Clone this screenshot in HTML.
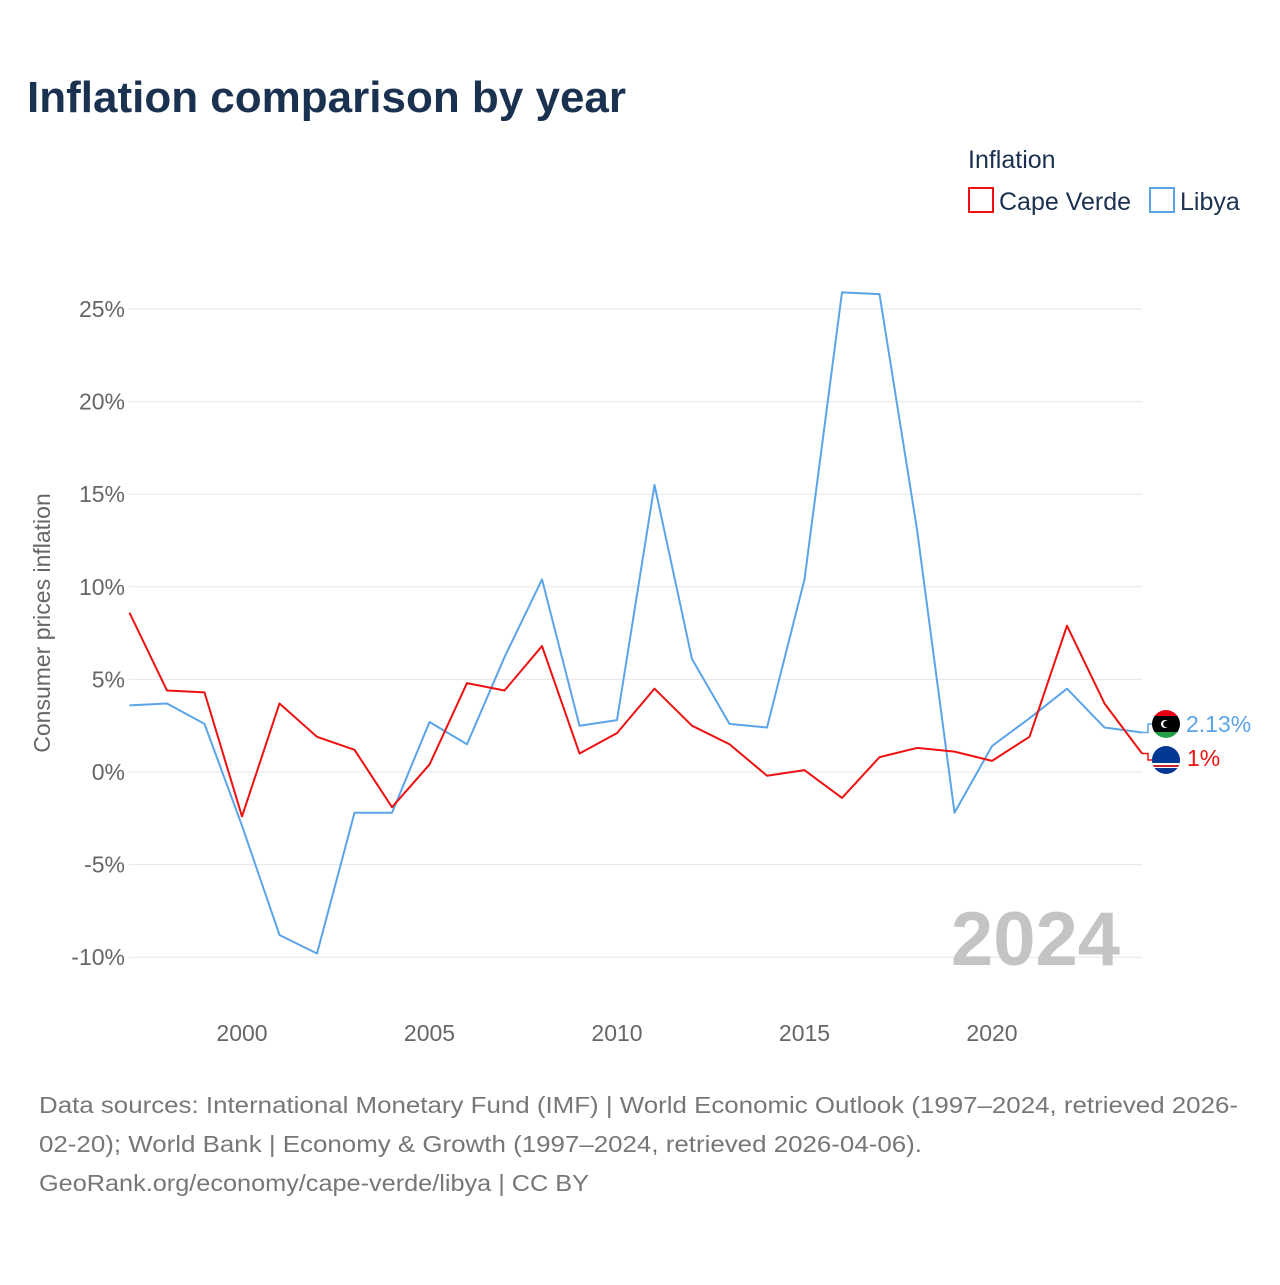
<!DOCTYPE html>
<html><head><meta charset="utf-8"><style>
body{margin:0;background:#fff;font-family:"Liberation Sans",sans-serif}
</style></head><body>
<svg id="c" width="1280" height="1280" xmlns="http://www.w3.org/2000/svg">
<text x="27" y="112" font-size="44" font-weight="bold" fill="#1b3150">Inflation comparison by year</text>
<text x="968" y="168" font-size="25" fill="#1b3150">Inflation</text>
<g><rect x="969" y="188" width="24" height="24" fill="none" stroke="#ee1111" stroke-width="2"/><text x="999" y="210" font-size="25" fill="#1b3150">Cape Verde</text></g>
<g><rect x="1150" y="188" width="24" height="24" fill="none" stroke="#5ba4e8" stroke-width="2"/><text x="1180" y="210" font-size="25" fill="#1b3150">Libya</text></g>
<text transform="translate(50,623) rotate(-90)" text-anchor="middle" font-size="23" fill="#666">Consumer prices inflation</text>
<g id="grid"></g><g id="xt"></g>
<text x="1120" y="965" text-anchor="end" font-size="76" font-weight="bold" fill="#c4c4c4">2024</text>
<g id="lines"></g>
<g>
<clipPath id="f1"><circle cx="1166" cy="724" r="14"/></clipPath>
<g clip-path="url(#f1)"><rect x="1150" y="708" width="32" height="8" fill="#e70013"/><rect x="1150" y="716" width="32" height="16" fill="#000"/><rect x="1150" y="732" width="32" height="8" fill="#239e46"/><circle cx="1165" cy="724" r="4" fill="#fff"/><circle cx="1166.5" cy="724" r="3.3" fill="#000"/></g>
<text x="1186" y="732" font-size="23" fill="#5ba4e8">2.13%</text></g>
<g>
<clipPath id="f2"><circle cx="1166" cy="760" r="14"/></clipPath>
<g clip-path="url(#f2)"><rect x="1150" y="744" width="32" height="32" fill="#003893"/><rect x="1150" y="763" width="32" height="5" fill="#fff"/><rect x="1150" y="765" width="32" height="2" fill="#cf2027"/></g>
<text x="1187" y="766" font-size="23" fill="#ee1111">1%</text></g>
<g font-size="23" fill="#777">
<text x="39" y="1113" textLength="1199" lengthAdjust="spacingAndGlyphs">Data sources: International Monetary Fund (IMF) | World Economic Outlook (1997–2024, retrieved 2026-</text>
<text x="39" y="1152" textLength="883" lengthAdjust="spacingAndGlyphs">02-20); World Bank | Economy &amp; Growth (1997–2024, retrieved 2026-04-06).</text>
<text x="39" y="1191" textLength="550" lengthAdjust="spacingAndGlyphs">GeoRank.org/economy/cape-verde/libya | CC BY</text>
</g>
</svg>
<script>
const years=[1997,1998,1999,2000,2001,2002,2003,2004,2005,2006,2007,2008,2009,2010,2011,2012,2013,2014,2015,2016,2017,2018,2019,2020,2021,2022,2023,2024];
const capeVerde=[8.6,4.4,4.3,-2.4,3.7,1.9,1.2,-1.9,0.4,4.8,4.4,6.8,1.0,2.1,4.5,2.5,1.5,-0.2,0.1,-1.4,0.8,1.3,1.1,0.6,1.9,7.9,3.7,1.0];
const libya=[3.6,3.7,2.6,-2.9,-8.8,-9.8,-2.2,-2.2,2.7,1.5,6.2,10.4,2.5,2.8,15.5,6.1,2.6,2.4,10.4,25.9,25.8,13.1,-2.2,1.4,2.9,4.5,2.4,2.13];
const yTicks=[-10,-5,0,5,10,15,20,25];
const xTicks=[2000,2005,2010,2015,2020];
const X=y=>129.5+(y-1997)*37.5, Y=v=>772-v*18.52;
const NS="http://www.w3.org/2000/svg";
function mk(t,a,p){const e=document.createElementNS(NS,t);for(const k in a)e.setAttribute(k,a[k]);p.appendChild(e);return e;}
const g=document.getElementById('grid');
yTicks.forEach(v=>{
 const l=mk('line',{x1:129,x2:1142,y1:Y(v),y2:Y(v),stroke:'#e6e6e6','stroke-width':1},g);
 
 
 const t=mk('text',{x:125,y:Y(v)+8,'text-anchor':'end','font-size':23,fill:'#666'},g);
 t.textContent=v+'%';
 
 
});
const xt=document.getElementById('xt');
xTicks.forEach(v=>{
 const t=mk('text',{x:X(v),y:1041,'text-anchor':'middle','font-size':23,fill:'#666'},xt);
 t.textContent=v;
 
 
});
const L=document.getElementById('lines');
function line(d,c,n){
 const p=mk('polyline',{points:d.map((v,i)=>X(years[i])+','+Y(v)).join(' '),fill:'none',stroke:c,'stroke-width':2,'stroke-linejoin':'round'},L);
 
 
}
line(libya,'#5ba4e8','libya-line');
line(capeVerde,'#ee1111','cape-verde-line');
const last=years.length-1;
mk('polyline',{points:`${X(years[last])},${Y(libya[last])} 1148,${Y(libya[last])} 1148,724 1152,724`,fill:'none',stroke:'#5ba4e8','stroke-width':1.5},L);
mk('polyline',{points:`${X(years[last])},${Y(capeVerde[last])} 1148,${Y(capeVerde[last])} 1148,760 1152,760`,fill:'none',stroke:'#ee1111','stroke-width':1.5},L);
</script>
</body></html>
